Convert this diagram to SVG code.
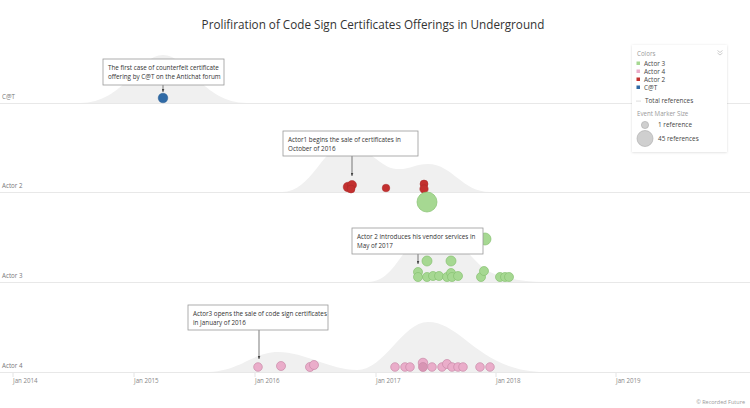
<svg xmlns="http://www.w3.org/2000/svg" width="750" height="408" viewBox="0 0 750 408">
<defs>
<style>
text{font-family:"Open Sans","Liberation Sans",sans-serif}
.title{font-size:11.7px;fill:#333}
.row{font-size:6.2px;fill:#777}
.axis{font-size:6.2px;fill:#888}
.ann{font-size:6.3px;fill:#333}
.lg{font-size:6.4px;fill:#444}
.lgh{font-size:6.2px;fill:#999}
.base{stroke:#e8e8e8;stroke-width:1}
.dens{fill:#f0f0f0}
.box{fill:#fff;stroke:#9a9a9a;stroke-width:0.8}
.red{fill:#c3302f;stroke:#a82727;stroke-width:0.5}
.blue{fill:#2f6aa6;stroke:#285d92;stroke-width:0.5}
.green{fill:#a6d892;stroke:#86c171;stroke-width:0.7}
.pink{fill:#eaadca;stroke:#c98aa7;stroke-width:0.7}
.arr{stroke:#444;stroke-width:0.7;fill:none}
.tick{stroke:#ddd;stroke-width:0.8}
</style>
<marker id="ahd" markerWidth="3" markerHeight="3.5" refX="1.5" refY="3.5" orient="0" markerUnits="userSpaceOnUse" viewBox="0 0 3 3.5">
<path d="M0,0 L3,0 L1.5,3.5 Z" fill="#444"/>
</marker>
<filter id="sh" x="-10%" y="-10%" width="120%" height="120%">
<feDropShadow dx="0" dy="0.5" stdDeviation="1.2" flood-color="#000" flood-opacity="0.15"/>
</filter>
</defs>
<rect width="750" height="408" fill="#fff"/>
<text class="title" x="373" y="29" text-anchor="middle">Prolifiration of Code Sign Certificates Offerings in Underground</text>

<g id="row-cat">
<path class="dens" d="M80,103 C125,103 138,55 163,55 C188,55 202,103 247,103 Z"/>
<line class="base" x1="0" y1="103.5" x2="750" y2="103.5"/>
<text class="row" x="2" y="99">C@T</text>
<circle class="blue" cx="163" cy="98" r="4.8"/>
</g>

<g id="row-actor2">
<path class="dens" d="M282,192 C312,192 322,146 346,145 C366,144 380,168 396,169 C410,170 415,164 428,164 C452,164 462,192 490,192 Z"/>
<line class="base" x1="0" y1="192.5" x2="750" y2="192.5"/>
<text class="row" x="2" y="188">Actor 2</text>
<circle class="red" cx="348" cy="187" r="4.8"/>
<circle class="red" cx="352" cy="185" r="4.5"/>
<circle class="red" cx="351" cy="189" r="4"/>
<circle class="red" cx="386" cy="188" r="3.8"/>
<circle class="red" cx="424" cy="184" r="4"/>
<circle class="red" cx="424" cy="189" r="4.2"/>
</g>

<g id="row-actor3">
<path class="dens" d="M368,282 C398,282 405,232 432,232 C460,232 470,262 490,272 C505,279 525,282 545,282 Z"/>
<line class="base" x1="0" y1="282.5" x2="750" y2="282.5"/>
<text class="row" x="2" y="278">Actor 3</text>
<circle class="green" cx="427" cy="202" r="10"/>
<circle class="green" cx="485" cy="239" r="6"/>
<circle class="green" cx="427" cy="261" r="5"/>
<circle class="green" cx="451" cy="261" r="5"/>
<circle class="green" cx="418" cy="272" r="4.5"/>
<circle class="green" cx="418" cy="277" r="4.5"/>
<circle class="green" cx="427" cy="277" r="4.5"/>
<circle class="green" cx="433" cy="276" r="4.5"/>
<circle class="green" cx="439" cy="276" r="4.5"/>
<circle class="green" cx="447" cy="277" r="4.5"/>
<circle class="green" cx="451" cy="273" r="4.5"/>
<circle class="green" cx="452" cy="277" r="4.5"/>
<circle class="green" cx="458" cy="276" r="4.5"/>
<circle class="green" cx="481" cy="277" r="4.5"/>
<circle class="green" cx="484" cy="271" r="4.5"/>
<circle class="green" cx="500" cy="277" r="4.5"/>
<circle class="green" cx="505" cy="277" r="4.5"/>
<circle class="green" cx="509" cy="277" r="4.5"/>
</g>

<g id="row-actor4">
<path class="dens" d="M205,372 C240,372 252,352 278,352 C305,352 330,370 357,370 C385,370 402,322 428,322 C462,322 480,372 545,372 Z"/>
<line class="base" x1="0" y1="372.5" x2="750" y2="372.5"/>
<text class="row" x="2" y="368">Actor 4</text>
<circle class="pink" cx="258" cy="367" r="4.3"/>
<circle class="pink" cx="281" cy="366" r="4.5"/>
<circle class="pink" cx="310" cy="367" r="4.5"/>
<circle class="pink" cx="314" cy="365" r="4.5"/>
<circle class="pink" cx="395" cy="367" r="4.3"/>
<circle class="pink" cx="405" cy="367" r="4.3"/>
<circle class="pink" cx="410" cy="367" r="4.3"/>
<circle class="pink" cx="423" cy="363" r="4.8"/>
<circle class="pink" cx="423" cy="367" r="4.5" style="fill:#d895b4"/>
<circle class="pink" cx="432" cy="367" r="4.3"/>
<circle class="pink" cx="442" cy="367" r="4.3"/>
<circle class="pink" cx="447" cy="364" r="4.5"/>
<circle class="pink" cx="452" cy="367" r="4.3"/>
<circle class="pink" cx="458" cy="367" r="4.3"/>
<circle class="pink" cx="463" cy="367" r="4.3"/>
<circle class="pink" cx="480" cy="367" r="4.3"/>
<circle class="pink" cx="490" cy="367" r="4.3"/>
</g>

<g id="axis">
<line class="tick" x1="13" y1="373" x2="13" y2="377"/>
<line class="tick" x1="134" y1="373" x2="134" y2="377"/>
<line class="tick" x1="255" y1="373" x2="255" y2="377"/>
<line class="tick" x1="376" y1="373" x2="376" y2="377"/>
<line class="tick" x1="496" y1="373" x2="496" y2="377"/>
<line class="tick" x1="616" y1="373" x2="616" y2="377"/>
<text class="axis" x="13" y="383">Jan 2014</text>
<text class="axis" x="134" y="383">Jan 2015</text>
<text class="axis" x="255" y="383">Jan 2016</text>
<text class="axis" x="376" y="383">Jan 2017</text>
<text class="axis" x="496" y="383">Jan 2018</text>
<text class="axis" x="616" y="383">Jan 2019</text>
</g>

<g id="connectors">
<line class="arr" x1="163" y1="85" x2="163" y2="92" marker-end="url(#ahd)"/>
<line class="arr" x1="352" y1="156" x2="352" y2="176" marker-end="url(#ahd)"/>
<line class="arr" x1="418" y1="254" x2="418" y2="264" marker-end="url(#ahd)"/>
<line class="arr" x1="259" y1="330" x2="259" y2="359" marker-end="url(#ahd)"/>
</g>

<g id="ann-cat">
<rect class="box" x="103" y="59" width="121" height="26"/>
<text class="ann" x="108" y="70">The first case of counterfeit certificate</text>
<text class="ann" x="108" y="79">offering by C@T on the Antichat forum</text>
</g>
<g id="ann-actor2">
<rect class="box" x="283" y="131" width="135" height="25"/>
<text class="ann" x="288" y="142">Actor1 begins the sale of certificates in</text>
<text class="ann" x="288" y="151">October of 2016</text>
</g>
<g id="ann-actor3">
<rect class="box" x="352" y="228" width="131" height="26"/>
<text class="ann" x="357" y="239">Actor 2 introduces his vendor services in</text>
<text class="ann" x="357" y="248">May of 2017</text>
</g>
<g id="ann-actor4">
<rect class="box" x="188" y="305" width="140" height="25"/>
<text class="ann" x="193" y="316">Actor3 opens the sale of code sign certificates</text>
<text class="ann" x="193" y="325">in January of 2016</text>
</g>

<g id="legend">
<rect x="632" y="45" width="95" height="107" fill="#fff" filter="url(#sh)"/>
<text class="lgh" x="637" y="56">Colors</text>
<path d="M717.5,50.5 l2.5,2 l2.5,-2 M717.5,53 l2.5,2 l2.5,-2" stroke="#aaa" stroke-width="0.6" fill="none"/>
<rect x="636.5" y="61.5" width="3.5" height="3.5" fill="#a6d892"/>
<text class="lg" x="644" y="66">Actor 3</text>
<rect x="636.5" y="69.5" width="3.5" height="3.5" fill="#eaadca"/>
<text class="lg" x="644" y="74">Actor 4</text>
<rect x="636.5" y="77.5" width="3.5" height="3.5" fill="#c3302f"/>
<text class="lg" x="644" y="82">Actor 2</text>
<rect x="636.5" y="85.5" width="3.5" height="3.5" fill="#2f6aa6"/>
<text class="lg" x="644" y="90">C@T</text>
<rect x="636" y="100.5" width="5" height="1.2" fill="#e3e3e3"/>
<text class="lg" x="645" y="103">Total references</text>
<text class="lgh" x="637" y="116">Event Marker Size</text>
<circle cx="645" cy="125" r="3.6" fill="#cfcfcf" stroke="#aaa" stroke-width="0.6"/>
<text class="lg" x="658" y="127">1 reference</text>
<circle cx="645" cy="138.5" r="8" fill="#cfcfcf" stroke="#aaa" stroke-width="0.6"/>
<text class="lg" x="658" y="141">45 references</text>
</g>

<text x="745" y="404" text-anchor="end" style="font-size:5.5px;fill:#999">© Recorded Future</text>
</svg>
